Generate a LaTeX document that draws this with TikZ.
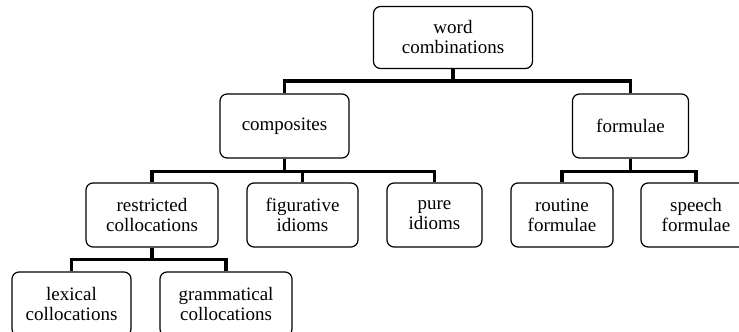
\documentclass[tikz,border=0pt]{standalone}
\usepackage{fontspec}
\setmainfont{Liberation Serif}
\begin{document}
\begin{tikzpicture}[x=1pt,y=-1pt]
         \tikzset{box/.style={draw,rounded corners=7pt,line width=1.2pt,align=center,
                  minimum height=64pt,inner sep=0pt,font=\fontsize{19}{20}\selectfont}}
         \tikzset{branch/.style={line width=3.6pt}}
         \clip (0,0) rectangle (739,332);
         \node[box,minimum width=159pt,minimum height=62pt] (wc) at (453,37.5) {word\\combinations};
         \node[box,minimum width=129pt] (comp) at (284.5,126) {composites};
         \node[box,minimum width=116pt] (form) at (630.5,126) {formulae};
         \node[box,minimum width=132pt] (restr) at (152,215) {restricted\\collocations};
         \node[box,minimum width=111pt] (fig) at (302.5,215) {figurative\\idioms};
         \node[box,minimum width=95pt] (pure) at (434.5,215) {pure\\idioms};
         \node[box,minimum width=102pt] (rout) at (562,215) {routine\\formulae};
         \node[box,minimum width=110pt] (speech) at (696,215) {speech\\formulae};
         \node[box,minimum width=119pt] (lex) at (71.5,304) {lexical\\collocations};
         \node[box,minimum width=132pt] (gram) at (226,304) {grammatical\\collocations};
         \draw[branch] (wc.south) -- ++(0,12) -| (comp.north);
         \draw[branch] (wc.south) -- ++(0,12) -| (form.north);
         \draw[branch] (comp.south) -- ++(0,13) -| (restr.north);
         \draw[branch] (comp.south) -- ++(0,13) -| (fig.north);
         \draw[branch] (comp.south) -- ++(0,13) -| (pure.north);
         \draw[branch] (form.south) -- ++(0,13) -| (rout.north);
         \draw[branch] (form.south) -- ++(0,13) -| (speech.north);
         \draw[branch] (restr.south) -- ++(0,12) -| (lex.north);
         \draw[branch] (restr.south) -- ++(0,12) -| (gram.north);
      \end{tikzpicture}
\end{document}
